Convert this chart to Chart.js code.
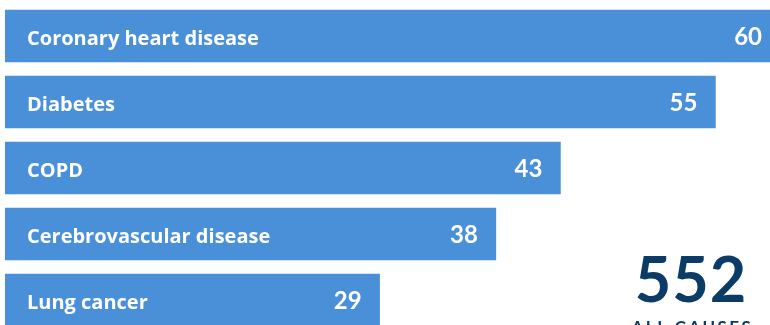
<!DOCTYPE html>
<html lang="en">
<head>
<meta charset="UTF-8">
<title>Deaths by cause</title>
<script src="https://cdn.jsdelivr.net/npm/chart.js"></script>
<style>
  html, body { margin: 0; padding: 0; background: #fff; overflow: hidden; }
  .frame { position: relative; width: 770px; height: 325px; overflow: hidden; }
  #chart { position: absolute; left: 0; top: 0; }
  .total { position: absolute; left: 620px; top: 246px; width: 142px; text-align: center;
           color: #0b3c68; font-family: Lato, sans-serif; line-height: 1; }
  .total .num { font-size: 63px; font-weight: 700; letter-spacing: 1px; }
  .total .cap { font-size: 17px; font-weight: 700; letter-spacing: 2.5px; margin-top: 9px; margin-left: 3px; }
</style>
</head>
<body>
<div class="frame">
  <canvas id="chart" width="790" height="340"></canvas>
  <div class="total"><div class="num" id="totalNum"></div><div class="cap" id="totalCap"></div></div>
</div>
<script>
const causes = ['Coronary heart disease', 'Diabetes', 'COPD', 'Cerebrovascular disease', 'Lung cancer'];
const deaths = [60, 55, 43, 38, 29];
const totalDeaths = 552;
const totalLabel = 'ALL CAUSES';

document.getElementById('totalNum').textContent = totalDeaths;
document.getElementById('totalCap').textContent = totalLabel;

// names on the left of each bar, values on the right end
const barText = {
  id: 'barText',
  afterDatasetsDraw(chart) {
    const ctx = chart.ctx;
    const meta = chart.getDatasetMeta(0);
    ctx.save();
    ctx.fillStyle = '#ffffff';
    ctx.textBaseline = 'middle';
    meta.data.forEach((bar, i) => {
      ctx.font = 'bold 20px "Open Sans", sans-serif';
      ctx.textAlign = 'left';
      ctx.fillText(causes[i], bar.base + 22, bar.y + 3);
      ctx.font = 'bold 24px Lato, sans-serif';
      ctx.textAlign = 'right';
      ctx.fillText(deaths[i], bar.x - 18, bar.y + 1);
    });
    ctx.restore();
  }
};

new Chart(document.getElementById('chart'), {
  type: 'bar',
  data: {
    labels: causes,
    datasets: [{
      data: deaths,
      backgroundColor: '#4a90d9',
      borderWidth: 0,
      barThickness: 52
    }]
  },
  options: {
    indexAxis: 'y',
    responsive: false,
    animation: false,
    layout: { padding: { left: 5, right: 10, top: 3, bottom: 7 } },
    scales: {
      x: { display: false, min: 0, max: 60 },
      y: { display: false }
    },
    plugins: {
      legend: { display: false },
      tooltip: { enabled: false }
    }
  },
  plugins: [barText]
});
</script>
</body>
</html>
